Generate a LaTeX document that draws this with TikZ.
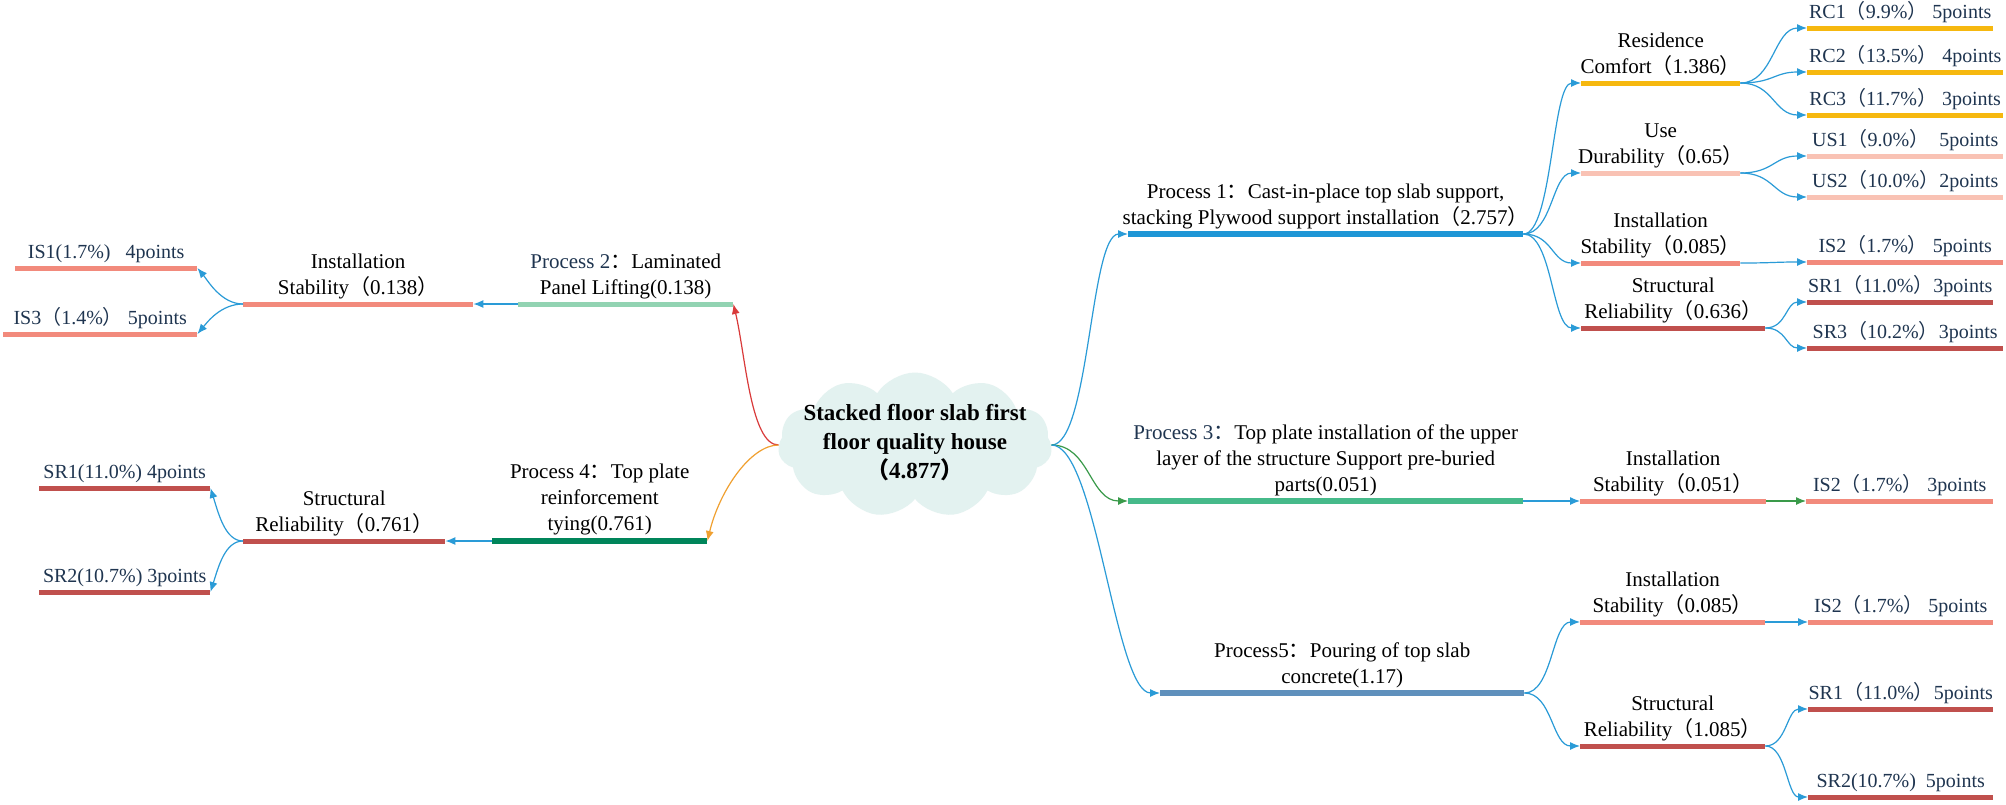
\documentclass[tikz,border=0pt]{standalone}
\usepackage{fontspec}
\setmainfont{Liberation Serif}
\newfontfamily\tnr{Liberation Serif}
\newfontfamily\cjk{Noto Sans CJK SC}
\usetikzlibrary{shapes.symbols,arrows.meta,positioning}
\newcommand\zl{{\cjk （}}
\newcommand\zr{{\cjk ）}}
\newcommand\zc{{\cjk ：}}
\definecolor{cP1}{HTML}{1E96D6}
\definecolor{cRC}{HTML}{F6B80F}
\definecolor{cUD}{HTML}{F9C2B4}
\definecolor{cIS}{HTML}{F28A7C}
\definecolor{cSR}{HTML}{C0504D}
\definecolor{cP2}{HTML}{92D3B2}
\definecolor{cP3}{HTML}{46BA8A}
\definecolor{cP4}{HTML}{00855A}
\definecolor{cP5}{HTML}{5F90BC}
\definecolor{cConn}{HTML}{2A9BD7}
\definecolor{cRed}{HTML}{D93A3A}
\definecolor{cOrange}{HTML}{F0A030}
\definecolor{cGreen}{HTML}{3A9A4A}
\definecolor{cCloud}{HTML}{E3F2F0}
\definecolor{navy}{HTML}{1F3550}
\tikzset{
  bar/.style={rectangle, inner sep=0pt, minimum height=5pt, anchor=west, fill=#1},
  pbar/.style={bar=#1, minimum height=6pt},
  lab/.style={font=\tnr\fontsize{21}{26}\selectfont, align=center, inner sep=0pt, text depth=0pt, anchor=south},
  leaf/.style={lab, font=\tnr\fontsize{20}{25}\selectfont, text=navy},
  conn/.style={draw=cConn, line width=1.2pt, -{Latex[length=10pt,width=8pt]}},
}
\begin{document}
\begin{tikzpicture}[x=1pt,y=1pt]
\fill[white] (0,0) rectangle (2006,-804);
\useasboundingbox (0,0) rectangle (2006,-804);

% central cloud
\node[cloud, cloud puffs=11, cloud puff arc=115, aspect=2.0, fill=cCloud,
      minimum width=274pt, minimum height=145pt, inner sep=0pt] (cloud) at (915,-445) {};
\node[font=\tnr\fontsize{23}{29}\selectfont\bfseries, align=center, inner sep=0pt] (ct) at (915,-443)
  {Stacked floor slab first\\floor quality house\\\zl 4.877\zr};

% ---------- right side ----------
\node[pbar=cP1, minimum width=395pt] (p1) at (1128,-234) {};
\node[lab, above=6pt of p1] (p1t) {Process 1\zc Cast-in-place top slab support,\\stacking Plywood support installation\zl 2.757\zr};

\node[bar=cRC, minimum width=159pt] (rc) at (1581,-83) {};
\node[lab, above=7pt of rc] (rct) {Residence\\Comfort\zl 1.386\zr};
\node[bar=cRC, minimum width=186pt] (rc1) at (1807,-28) {};
\node[leaf, above=7pt of rc1] (rc1t) {RC1\zl 9.9\%\zr\ 5points};
\node[bar=cRC, minimum width=196pt] (rc2) at (1807,-72) {};
\node[leaf, above=7pt of rc2] (rc2t) {RC2\zl 13.5\%\zr\ 4points};
\node[bar=cRC, minimum width=196pt] (rc3) at (1807,-115) {};
\node[leaf, above=7pt of rc3] (rc3t) {RC3\zl 11.7\%\zr\ 3points};

\node[bar=cUD, minimum width=159pt] (ud) at (1581,-173) {};
\node[lab, above=7pt of ud] (udt) {Use\\Durability\zl 0.65\zr};
\node[bar=cUD, minimum width=196pt] (us1) at (1807,-156) {};
\node[leaf, above=7pt of us1] (us1t) {US1\zl 9.0\%\zr\ \ 5points};
\node[bar=cUD, minimum width=196pt] (us2) at (1807,-197) {};
\node[leaf, above=7pt of us2] (us2t) {US2\zl 10.0\%\zr 2points};

\node[bar=cIS, minimum width=159pt] (isa) at (1581,-263) {};
\node[lab, above=7pt of isa] (isat) {Installation\\Stability\zl 0.085\zr};
\node[bar=cIS, minimum width=196pt] (is2a) at (1807,-262) {};
\node[leaf, above=7pt of is2a] (is2at) {IS2\zl 1.7\%\zr\ 5points};

\node[bar=cSR, minimum width=184pt] (sra) at (1581,-328) {};
\node[lab, above=7pt of sra] (srat) {Structural\\Reliability\zl 0.636\zr};
\node[bar=cSR, minimum width=186pt] (sr1a) at (1807,-302) {};
\node[leaf, above=7pt of sr1a] (sr1at) {SR1\zl 11.0\%\zr 3points};
\node[bar=cSR, minimum width=196pt] (sr3a) at (1807,-348) {};
\node[leaf, above=7pt of sr3a] (sr3at) {SR3\zl 10.2\%\zr 3points};

\node[pbar=cP3, minimum width=395pt] (p3) at (1128,-501) {};
\node[lab, above=6pt of p3] (p3t) {\textcolor{navy}{Process 3\zc}Top plate installation of the upper\\layer of the structure Support pre-buried\\parts(0.051)};
\node[bar=cIS, minimum width=186pt] (isb) at (1580,-501) {};
\node[lab, above=7pt of isb] (isbt) {Installation\\Stability\zl 0.051\zr};
\node[bar=cIS, minimum width=187pt] (is2b) at (1806,-501) {};
\node[leaf, above=7pt of is2b] (is2bt) {IS2\zl 1.7\%\zr\ 3points};

\node[pbar=cP5, minimum width=364pt] (p5) at (1160,-693) {};
\node[lab, above=6pt of p5] (p5t) {Process5\zc Pouring of top slab\\concrete(1.17)};
\node[bar=cIS, minimum width=185pt] (isc) at (1580,-622) {};
\node[lab, above=7pt of isc] (isct) {Installation\\Stability\zl 0.085\zr};
\node[bar=cIS, minimum width=185pt] (is2c) at (1808,-622) {};
\node[leaf, above=7pt of is2c] (is2ct) {IS2\zl 1.7\%\zr\ 5points};
\node[bar=cSR, minimum width=185pt] (src) at (1580,-746) {};
\node[lab, above=7pt of src] (srct) {Structural\\Reliability\zl 1.085\zr};
\node[bar=cSR, minimum width=185pt] (sr1c) at (1808,-709) {};
\node[leaf, above=7pt of sr1c] (sr1ct) {SR1\zl 11.0\%\zr 5points};
\node[bar=cSR, minimum width=185pt] (sr2c) at (1808,-797) {};
\node[leaf, above=7pt of sr2c] (sr2ct) {SR2(10.7\%)\ \ 5points};

% ---------- left side ----------
\node[bar=cP2, minimum width=215pt] (p2) at (518,-304) {};
\node[lab, above=7pt of p2] (p2t) {\textcolor{navy}{Process 2}\zc Laminated\\Panel Lifting(0.138)};
\node[bar=cIS, minimum width=230pt] (isl) at (243,-304) {};
\node[lab, above=7pt of isl] (islt) {Installation\\Stability\zl 0.138\zr};
\node[bar=cIS, minimum width=182pt] (is1l) at (15,-268) {};
\node[leaf, above=7pt of is1l] (is1lt) {IS1(1.7\%)\ \ \ 4points};
\node[bar=cIS, minimum width=194pt] (is3l) at (3,-334) {};
\node[leaf, above=7pt of is3l] (is3lt) {IS3\zl 1.4\%\zr\ 5points};

\node[pbar=cP4, minimum width=215pt] (p4) at (492,-541) {};
\node[lab, above=7pt of p4] (p4t) {Process 4\zc Top plate\\reinforcement\\tying(0.761)};
\node[bar=cSR, minimum width=202pt] (srl) at (243,-541) {};
\node[lab, above=7pt of srl] (srlt) {Structural\\Reliability\zl 0.761\zr};
\node[bar=cSR, minimum width=171pt] (sr1l) at (39,-488) {};
\node[leaf, above=7pt of sr1l] (sr1lt) {SR1(11.0\%) 4points};
\node[bar=cSR, minimum width=171pt] (sr2l) at (39,-592) {};
\node[leaf, above=7pt of sr2l] (sr2lt) {SR2(10.7\%) 3points};

% ---------- connectors ----------
\draw[conn] (cloud.east) .. controls +(38,0) and +(-38,0) .. (p1.west);
\draw[conn, draw=cGreen, -{Latex[length=10pt,width=8pt,color=cGreen]}] (cloud.east) .. controls +(38,0) and +(-38,0) .. (p3.west);
\draw[conn] (cloud.east) .. controls +(45,0) and +(-45,0) .. (p5.west);

\draw[conn] (p1.east) .. controls +(29,0) and +(-29,0) .. (rc.west);
\draw[conn] (p1.east) .. controls +(29,0) and +(-29,0) .. (ud.west);
\draw[conn] (p1.east) .. controls +(29,0) and +(-29,0) .. (isa.west);
\draw[conn] (p1.east) .. controls +(29,0) and +(-29,0) .. (sra.west);

\draw[conn] (rc.east) .. controls +(33,0) and +(-33,0) .. (rc1.west);
\draw[conn] (rc.east) .. controls +(33,0) and +(-33,0) .. (rc2.west);
\draw[conn] (rc.east) .. controls +(33,0) and +(-33,0) .. (rc3.west);
\draw[conn] (ud.east) .. controls +(33,0) and +(-33,0) .. (us1.west);
\draw[conn] (ud.east) .. controls +(33,0) and +(-33,0) .. (us2.west);
\draw[conn] (isa.east) .. controls +(33,0) and +(-33,0) .. (is2a.west);
\draw[conn] (sra.east) .. controls +(21,0) and +(-21,0) .. (sr1a.west);
\draw[conn] (sra.east) .. controls +(21,0) and +(-21,0) .. (sr3a.west);

\draw[conn] (p3.east) -- (isb.west);
\draw[conn, draw=cGreen, -{Latex[length=10pt,width=8pt,color=cGreen]}] (isb.east) -- (is2b.west);

\draw[conn] (p5.east) .. controls +(28,0) and +(-28,0) .. (isc.west);
\draw[conn] (p5.east) .. controls +(28,0) and +(-28,0) .. (src.west);
\draw[conn] (isc.east) -- (is2c.west);
\draw[conn] (src.east) .. controls +(21,0) and +(-21,0) .. (sr1c.west);
\draw[conn] (src.east) .. controls +(21,0) and +(-21,0) .. (sr2c.west);

\draw[conn, draw=cRed, -{Latex[length=10pt,width=8pt,color=cRed]}] (cloud.west) .. controls +(-28,0) and +(12,-50) .. (p2.east);
\draw[conn, draw=cOrange, -{Latex[length=10pt,width=8pt,color=cOrange]}] (cloud.west) .. controls +(-28,0) and +(12,50) .. (p4.east);

\draw[conn] (p2.west) -- (isl.east);
\draw[conn] (isl.west) .. controls +(-22,0) and +(10,-12) .. (is1l.east);
\draw[conn] (isl.west) .. controls +(-22,0) and +(10,12) .. (is3l.east);
\draw[conn] (p4.west) -- (srl.east);
\draw[conn] (srl.west) .. controls +(-18,0) and +(8,-25) .. (sr1l.east);
\draw[conn] (srl.west) .. controls +(-18,0) and +(8,25) .. (sr2l.east);
\end{tikzpicture}
\end{document}
